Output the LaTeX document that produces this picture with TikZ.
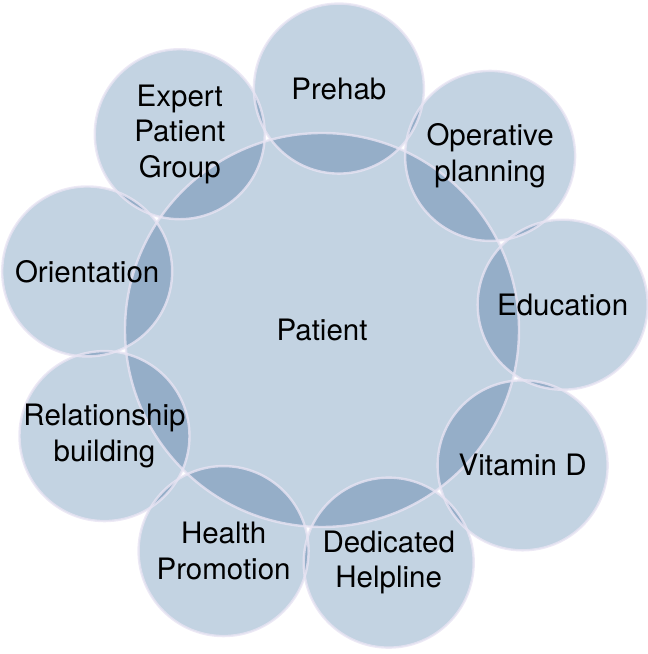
\documentclass[tikz,border=0pt]{standalone}
\usepackage{fontspec}
\setmainfont{TeX Gyre Heros}
\usetikzlibrary{calc}
\definecolor{cfill}{RGB}{195,211,226}
\definecolor{cedge}{RGB}{232,228,243}
\begin{document}
\begin{tikzpicture}[x=1pt,y=1pt,
  bubble/.style={circle,minimum size=170pt,inner sep=0pt,align=center,
    font=\fontsize{29.5}{35.5}\selectfont},
  hub/.style={circle,minimum size=394pt,inner sep=0pt,align=center,
    font=\fontsize{29.5}{35.5}\selectfont}]
\useasboundingbox (0,0) rectangle (648,654);
\coordinate (C) at (322,324);
% fills with multiply blending
\begin{scope}[blend group=multiply]
  \fill[cfill] (C) circle (197);
  \foreach \k in {0,...,8}{
    \fill[cfill] ($(C)+({86-40*\k}:242)$) circle (85);
  }
\end{scope}
% edges
\begin{scope}[draw=cedge,line width=2.4pt,opacity=0.8]
  \draw (C) circle (197);
  \foreach \k in {0,...,8}{
    \draw ($(C)+({86-40*\k}:242)$) circle (85);
  }
\end{scope}
% labels
\node[hub] (patient) at (C) {Patient};
\node[bubble] (s0) at ($(C)+(86:242)$) {Prehab};
\node[bubble] (s1) at ($(C)+(46:242)$) {Operative\\planning};
\node[bubble] (s2) at ($(C)+(6:242)$) {Education};
\node[bubble] (s3) at ($(C)+(-34:242)$) {Vitamin D};
\node[bubble] (s4) at ($(C)+(-74:242)$) {Dedicated\\Helpline};
\node[bubble] (s5) at ($(C)+(-114:242)$) {Health\\Promotion};
\node[bubble] (s6) at ($(C)+(-154:242)$) {Relationship\\building};
\node[bubble] (s7) at ($(C)+(166:242)$) {Orientation};
\node[bubble] (s8) at ($(C)+(126:242)$) {Expert\\Patient\\Group};
\end{tikzpicture}
\end{document}
